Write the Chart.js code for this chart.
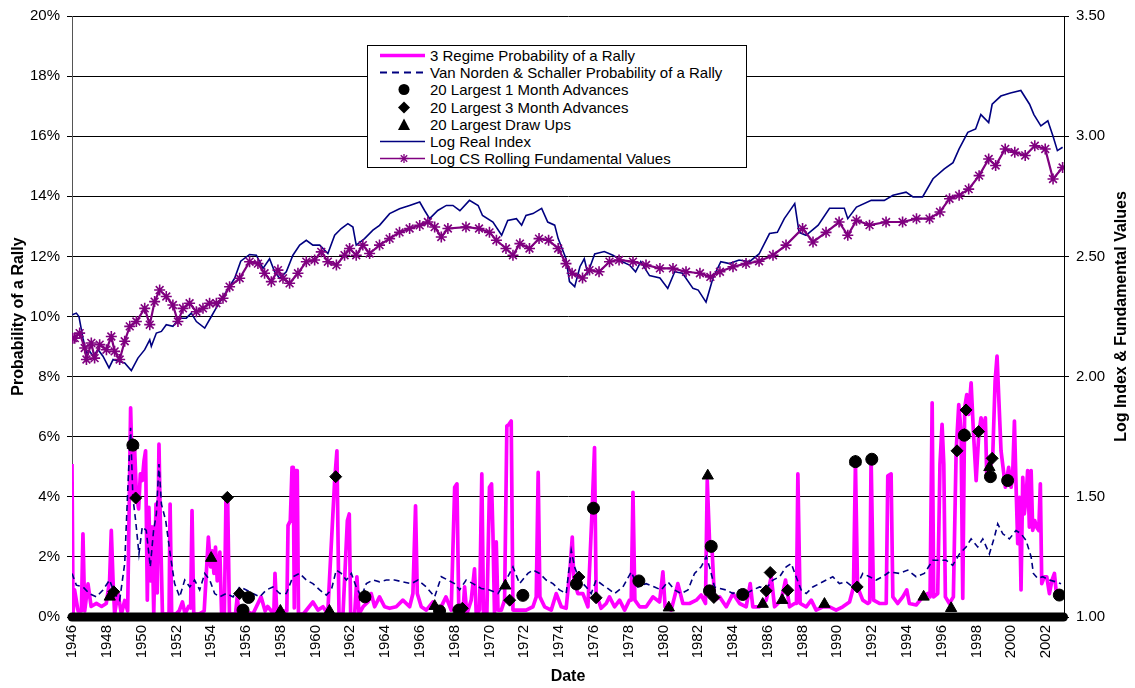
<!DOCTYPE html>
<html><head><meta charset="utf-8">
<script src="https://cdn.jsdelivr.net/npm/chart.js@4"></script>
<style>
html,body{margin:0;padding:0;background:#fff;}
#wrap{position:relative;width:1135px;height:688px;overflow:hidden;}
#legend{position:absolute;left:367px;top:45px;width:380px;height:123px;border:1px solid #000;background:#fff;font:15px "Liberation Sans",Arial,sans-serif;color:#000;box-sizing:border-box;padding-top:1px;}
.row{height:17.2px;display:flex;align-items:center;white-space:nowrap;line-height:17px;}
.row svg{width:50px;height:17px;margin-left:12px;flex:none;}
</style></head>
<body>
<div id="wrap">
<canvas id="c" width="1135" height="688"></canvas>
<div id="legend">
 <div class="row"><svg viewBox="0 0 50 17"><line x1="0" y1="8.5" x2="45" y2="8.5" stroke="#FF00FF" stroke-width="3.5"/></svg><span>3 Regime Probability of a Rally</span></div>
 <div class="row"><svg viewBox="0 0 50 17"><line x1="0" y1="8.5" x2="45" y2="8.5" stroke="#000080" stroke-width="1.8" stroke-dasharray="7,5"/></svg><span>Van Norden &amp; Schaller Probability of a Rally</span></div>
 <div class="row"><svg viewBox="0 0 50 17"><circle cx="24" cy="8.5" r="5.5" fill="#000"/></svg><span>20 Largest 1 Month Advances</span></div>
 <div class="row"><svg viewBox="0 0 50 17"><polygon points="24,2.5 30,8.5 24,14.5 18,8.5" fill="#000"/></svg><span>20 Largest 3 Month Advances</span></div>
 <div class="row"><svg viewBox="0 0 50 17"><polygon points="24,2.5 30,14 18,14" fill="#000"/></svg><span>20 Largest Draw Ups</span></div>
 <div class="row"><svg viewBox="0 0 50 17"><line x1="0" y1="8.5" x2="45" y2="8.5" stroke="#000080" stroke-width="1.5"/></svg><span>Log Real Index</span></div>
 <div class="row"><svg viewBox="0 0 50 17"><line x1="0" y1="8.5" x2="45" y2="8.5" stroke="#800080" stroke-width="1.5"/><g stroke="#800080" stroke-width="1.3"><line x1="24" y1="4" x2="24" y2="13"/><line x1="19.5" y1="8.5" x2="28.5" y2="8.5"/><line x1="20.8" y1="5.3" x2="27.2" y2="11.7"/><line x1="20.8" y1="11.7" x2="27.2" y2="5.3"/></g></svg><span>Log CS Rolling Fundamental Values</span></div>
</div>
</div>
<script>
// ---------- DATA ----------
const yearTicks = [1946,1948,1950,1952,1954,1956,1958,1960,1962,1964,1966,1968,1970,1972,1974,1976,1978,1980,1982,1984,1986,1988,1990,1992,1994,1996,1998,2000,2002];

// 3 Regime Probability of a Rally (%)
const regimeYears = [1946.0,1946.06,1946.15,1946.35,1946.54,1946.63,1946.73,1946.92,1947.1,1947.4,1947.7,1947.97,1948.16,1948.26,1948.36,1948.45,1948.64,1948.84,1949.03,1949.2,1949.37,1949.5,1949.6,1949.7,1949.83,1949.93,1950.04,1950.14,1950.23,1950.33,1950.42,1950.52,1950.6,1950.7,1950.83,1950.9,1951.0,1951.07,1951.2,1951.35,1951.58,1951.64,1951.73,1951.97,1952.16,1952.35,1952.5,1952.7,1952.82,1952.9,1953.0,1953.3,1953.6,1953.84,1953.97,1954.06,1954.16,1954.25,1954.35,1954.5,1954.6,1954.76,1954.85,1954.95,1955.05,1955.4,1955.5,1955.6,1955.95,1956.4,1956.87,1957.1,1957.25,1957.6,1957.67,1957.77,1958.05,1958.35,1958.42,1958.55,1958.65,1958.72,1958.78,1958.85,1958.95,1959.02,1959.3,1959.85,1960.14,1960.43,1960.7,1960.96,1961.1,1961.23,1961.35,1961.58,1961.83,1961.94,1962.02,1962.25,1962.38,1962.5,1962.73,1963.01,1963.2,1963.4,1963.68,1963.97,1964.26,1964.64,1965.02,1965.41,1965.6,1965.75,1965.85,1966.08,1966.37,1966.75,1967.13,1967.5,1967.8,1968.0,1968.13,1968.24,1968.47,1968.57,1968.7,1968.95,1969.14,1969.24,1969.43,1969.56,1969.66,1969.85,1970.0,1970.12,1970.2,1970.29,1970.39,1970.49,1970.68,1970.87,1971.0,1971.12,1971.25,1971.35,1971.73,1972.11,1972.5,1972.69,1972.8,1972.9,1973.17,1973.55,1973.84,1974.13,1974.41,1974.64,1974.76,1974.85,1975.08,1975.37,1975.66,1975.9,1976.04,1976.13,1976.42,1976.71,1976.9,1977.19,1977.48,1977.77,1978.05,1978.15,1978.25,1978.36,1978.63,1979.01,1979.4,1979.78,1979.97,1980.1,1980.45,1980.83,1981.12,1981.5,1981.89,1982.17,1982.42,1982.52,1982.65,1982.79,1982.94,1983.23,1983.61,1984.0,1984.38,1984.76,1984.99,1985.14,1985.53,1985.91,1986.2,1986.39,1986.77,1987.02,1987.25,1987.54,1987.65,1987.73,1987.86,1988.21,1988.5,1988.78,1989.17,1989.55,1989.93,1990.31,1990.7,1990.93,1991.04,1991.16,1991.46,1991.75,1991.86,1991.94,1992.08,1992.42,1992.81,1992.9,1993.09,1993.19,1993.47,1993.76,1993.99,1994.14,1994.53,1994.91,1995.2,1995.33,1995.45,1995.54,1995.77,1995.9,1996.02,1996.12,1996.21,1996.44,1996.67,1996.83,1996.98,1997.11,1997.21,1997.32,1997.44,1997.55,1997.69,1997.82,1997.98,1998.13,1998.26,1998.4,1998.51,1998.59,1998.74,1998.93,1999.07,1999.18,1999.28,1999.41,1999.55,1999.66,1999.85,1999.99,2000.08,2000.18,2000.27,2000.37,2000.47,2000.56,2000.66,2000.75,2000.85,2000.94,2001.04,2001.14,2001.23,2001.35,2001.46,2001.58,2001.67,2001.75,2001.9,2002.04,2002.19,2002.34,2002.48,2002.57,2002.76];
const regimeVals = [5.09,0.1,0.9,0.2,0.2,2.77,0.2,1.1,0.35,0.45,0.35,0.45,1.2,2.88,1.2,0.1,0.8,0.1,0.55,0.2,6.96,3.98,5.6,4.1,3.6,4.76,4.54,5.2,5.53,0.56,3.65,1.2,3.0,0.1,3.76,0.8,5.75,3.4,0.1,0.1,0.1,3.76,0.1,0.1,0.2,0.5,0.1,0.35,0.3,3.54,0.1,0.1,0.2,2.66,1.67,2.2,1.45,2.33,1.2,2.16,0.1,0.1,3.87,3.87,0.1,0.1,0.67,0.1,0.2,0.1,0.67,0.2,0.35,0.1,1.45,0.2,0.2,0.2,3.05,3.2,4.98,4.98,0.3,4.87,4.87,0.1,0.1,0.5,0.23,0.34,0.1,3.0,4.54,5.53,0.1,0.1,3.2,3.43,0.1,0.1,1.34,0.1,0.34,0.5,0.78,0.34,0.67,0.34,0.29,0.34,0.56,0.34,0.78,3.7,0.78,0.34,0.23,0.5,0.23,0.67,0.23,4.32,4.43,0.1,0.1,1.0,0.1,0.56,1.6,0.1,0.23,4.76,0.1,0.1,4.32,4.43,2.77,0.1,2.5,0.23,0.23,0.56,6.36,6.41,6.52,0.23,0.23,0.23,0.34,0.67,4.81,0.67,0.34,0.23,0.78,0.34,0.29,1.67,2.66,1.23,0.78,0.78,0.34,3.54,5.64,0.78,0.29,0.45,0.67,0.34,0.56,0.23,0.56,0.56,4.15,0.56,0.34,0.34,0.67,0.5,1.5,0.34,0.23,1.11,0.45,0.45,0.56,0.73,0.45,4.54,2.55,2.33,0.56,0.67,0.34,0.78,0.45,0.34,1.11,0.34,0.34,0.56,1.34,0.34,0.56,1.23,0.34,0.45,0.45,4.76,0.45,0.34,0.56,0.23,0.34,0.34,0.23,0.34,0.5,1.0,5.14,1.0,0.56,0.45,0.5,5.31,0.56,0.45,0.45,4.7,4.76,0.67,0.45,0.67,0.9,0.45,0.4,0.67,0.78,0.67,7.13,0.67,0.78,5.09,6.41,5.09,0.67,0.45,0.67,5.53,7.07,6.19,0.62,6.96,7.4,6.74,7.79,6.19,4.54,6.08,6.63,6.19,6.63,4.65,4.87,5.31,7.85,8.68,7.3,5.53,4.87,4.32,4.98,4.32,4.76,6.52,4.43,2.44,3.98,0.9,4.65,3.43,3.98,4.87,2.99,4.87,2.88,3.21,2.99,2.88,4.43,1.11,1.34,1.34,0.78,1.23,1.45,0.9,0.78];

// Van Norden & Schaller Probability of a Rally (%)
const vnsYears = [1946.0,1946.25,1946.63,1947.0,1947.4,1947.78,1948.16,1948.45,1948.74,1949.03,1949.22,1949.37,1949.5,1949.66,1949.85,1950.04,1950.27,1950.5,1950.69,1950.85,1951.0,1951.14,1951.39,1951.62,1951.9,1952.19,1952.48,1952.77,1953.05,1953.34,1953.63,1953.92,1954.2,1954.49,1954.87,1955.26,1955.64,1956.02,1956.4,1956.79,1957.17,1957.55,1957.94,1958.32,1958.7,1959.08,1959.47,1959.85,1960.24,1960.62,1960.91,1961.19,1961.48,1961.77,1962.06,1962.34,1962.63,1962.92,1963.3,1963.68,1964.07,1964.55,1965.02,1965.5,1965.89,1966.37,1966.85,1967.23,1967.61,1967.99,1968.28,1968.66,1969.05,1969.53,1970.0,1970.49,1970.96,1971.35,1971.73,1972.21,1972.5,1972.88,1973.26,1973.65,1974.03,1974.41,1974.7,1974.89,1975.18,1975.56,1975.85,1976.13,1976.52,1976.8,1977.19,1977.67,1978.15,1978.53,1979.01,1979.49,1979.87,1980.26,1980.64,1981.02,1981.41,1981.79,1982.17,1982.46,1982.65,1982.94,1983.23,1983.61,1984.0,1984.38,1984.76,1985.14,1985.53,1985.91,1986.3,1986.68,1987.06,1987.35,1987.63,1987.92,1988.21,1988.59,1988.97,1989.36,1989.74,1990.12,1990.51,1990.89,1991.18,1991.46,1991.85,1992.23,1992.61,1992.99,1993.57,1994.05,1994.53,1995.0,1995.49,1995.87,1996.25,1996.63,1997.02,1997.4,1997.69,1998.07,1998.36,1998.74,1999.03,1999.22,1999.51,1999.89,2000.27,2000.56,2000.85,2001.14,2001.27,2001.52,2001.81,2002.19,2002.57,2002.86];
const vnsVals = [1.45,1.06,1.0,0.78,0.67,0.9,1.23,0.78,0.56,1.78,4.43,6.3,3.98,3.2,2.1,3.0,2.88,1.67,2.88,3.43,5.09,3.76,3.2,2.2,1.11,0.67,1.23,1.0,1.23,0.9,1.45,1.23,0.78,0.67,0.78,0.67,1.0,0.9,0.78,0.67,0.9,1.0,0.78,0.78,1.34,1.45,1.23,1.11,0.9,0.73,0.9,1.56,1.45,1.23,1.45,1.0,0.67,1.11,1.23,1.17,1.23,1.23,1.17,1.11,1.23,1.0,0.67,1.34,1.23,1.11,0.9,1.23,1.11,0.95,0.9,0.78,1.23,1.67,1.11,1.45,1.56,1.45,1.23,1.11,0.9,0.78,2.22,1.67,1.23,1.0,0.78,1.23,1.06,0.95,0.78,1.0,1.5,1.0,1.11,1.0,0.9,1.17,0.9,0.78,0.9,1.45,1.67,2.0,1.67,1.0,0.95,0.9,0.78,0.9,0.78,0.9,1.0,0.95,1.23,1.34,1.67,1.78,1.34,0.9,0.78,1.0,1.11,1.23,1.34,1.11,1.17,1.0,1.11,1.45,1.34,1.23,1.34,1.5,1.45,1.56,1.34,1.45,1.89,1.89,1.89,1.72,2.1,2.33,2.6,2.33,2.6,2.1,2.66,3.1,2.77,2.6,2.88,2.77,2.55,2.0,1.45,1.28,1.34,1.23,1.17,1.11];

// Event markers (%)
const oneMonthYears = [1949.5,1955.83,1956.15,1962.84,1967.13,1968.24,1971.92,1975.0,1975.98,1978.59,1982.65,1982.75,1984.56,1991.04,1991.98,1997.3,1998.8,1999.79,2002.76];
const oneMonthVals  = [5.72,0.23,0.65,0.67,0.2,0.23,0.72,1.1,3.62,1.2,0.87,2.35,0.75,5.17,5.25,6.05,4.67,4.54,0.73];
const threeMonthYears = [1948.4,1949.66,1954.93,1955.64,1961.16,1968.44,1971.16,1975.14,1976.13,1982.9,1985.91,1986.14,1987.15,1991.14,1996.88,1997.4,1998.12,1998.9];
const threeMonthVals  = [0.84,3.96,3.98,0.78,4.67,0.29,0.56,1.33,0.64,0.65,0.87,1.48,0.89,1.0,5.53,6.89,6.17,5.28];
const drawUpYears = [1948.17,1949.5,1954.0,1957.98,1960.8,1962.84,1966.85,1970.91,1980.31,1982.55,1985.71,1986.83,1989.26,1991.04,1994.96,1996.54,1997.3,1998.74];
const drawUpVals  = [0.67,5.72,1.96,0.2,0.2,0.67,0.36,1.04,0.31,4.7,0.43,0.56,0.43,5.17,0.67,0.29,6.05,4.98];
// all other months of the event series sit at zero
const zeroYears = [1946.0, 2003.0];
const zeroVals  = [0, 0];

// Log Real Index
const indexYears = [1946.02,1946.25,1946.4,1946.63,1946.83,1947.02,1947.21,1947.5,1947.78,1948.13,1948.36,1948.65,1949.03,1949.41,1949.79,1950.18,1950.47,1950.56,1950.85,1951.14,1951.42,1951.8,1952.19,1952.57,1952.86,1953.15,1953.63,1954.01,1954.39,1954.87,1955.35,1955.7,1956.21,1956.6,1956.98,1957.36,1957.65,1957.94,1958.32,1958.7,1959.09,1959.47,1959.85,1960.24,1960.71,1961.1,1961.48,1961.86,1962.15,1962.34,1962.82,1963.3,1963.68,1964.26,1964.83,1965.41,1965.99,1966.27,1966.56,1967.03,1967.52,1967.9,1968.3,1968.85,1969.35,1969.6,1970.2,1970.7,1971.05,1971.55,1971.85,1972.1,1972.5,1973.0,1973.35,1973.75,1973.95,1974.4,1974.6,1974.9,1975.2,1975.45,1975.65,1976.05,1976.6,1977.1,1977.65,1978.05,1978.4,1978.7,1979.2,1979.8,1980.25,1980.65,1981.1,1981.7,1982.0,1982.45,1982.85,1983.3,1983.8,1984.35,1984.95,1985.5,1986.1,1986.55,1986.95,1987.15,1987.55,1987.8,1988.2,1988.9,1989.55,1990.4,1990.6,1991.1,1991.95,1992.7,1993.2,1993.95,1994.35,1994.9,1995.5,1996.15,1996.65,1997.0,1997.5,1997.95,1998.25,1998.7,1998.9,1999.4,1999.95,2000.55,2001.05,2001.3,2001.7,2002.1,2002.4,2002.65,2002.95];
const indexVals = [2.257,2.264,2.25,2.16,2.098,2.105,2.085,2.112,2.085,2.036,2.071,2.064,2.057,2.025,2.077,2.112,2.153,2.126,2.181,2.188,2.216,2.209,2.243,2.243,2.264,2.229,2.202,2.25,2.298,2.353,2.409,2.48,2.508,2.505,2.45,2.49,2.436,2.409,2.436,2.505,2.547,2.567,2.547,2.547,2.512,2.588,2.616,2.636,2.622,2.547,2.574,2.609,2.629,2.678,2.698,2.712,2.726,2.691,2.657,2.691,2.712,2.712,2.69,2.733,2.712,2.67,2.643,2.588,2.65,2.657,2.63,2.67,2.678,2.70,2.643,2.63,2.574,2.49,2.395,2.374,2.457,2.49,2.43,2.51,2.52,2.505,2.478,2.464,2.436,2.478,2.42,2.41,2.367,2.436,2.43,2.367,2.36,2.31,2.41,2.478,2.47,2.485,2.478,2.51,2.595,2.60,2.657,2.678,2.72,2.60,2.588,2.63,2.70,2.70,2.657,2.705,2.733,2.733,2.754,2.767,2.747,2.747,2.823,2.864,2.89,2.947,3.016,3.03,3.09,3.057,3.133,3.167,3.18,3.19,3.133,3.09,3.043,3.064,3.0,2.94,2.954];

// Log CS Rolling Fundamental Values
const fundYears = [1946.05,1946.16,1946.44,1946.73,1946.83,1947.11,1947.3,1947.59,1947.98,1948.26,1948.45,1948.74,1949.03,1949.32,1949.7,1950.18,1950.47,1950.75,1951.04,1951.42,1951.8,1952.09,1952.38,1952.76,1953.15,1953.53,1953.91,1954.3,1954.68,1955.06,1955.64,1956.21,1956.69,1957.07,1957.46,1957.84,1958.13,1958.51,1958.99,1959.47,1959.95,1960.33,1960.71,1961.2,1961.67,1961.96,1962.34,1962.72,1963.11,1963.68,1964.26,1964.83,1965.41,1965.99,1966.46,1966.85,1967.23,1967.61,1968.65,1969.4,1970.0,1970.4,1970.95,1971.35,1971.75,1972.3,1972.85,1973.4,1973.95,1974.4,1974.75,1975.35,1975.75,1976.3,1976.9,1977.45,1978.25,1979.0,1979.8,1980.55,1981.3,1982.1,1982.7,1983.25,1984.0,1984.75,1985.5,1986.3,1987.05,1988.0,1988.6,1989.35,1990.1,1990.6,1991.1,1991.85,1992.8,1993.75,1994.55,1995.3,1995.9,1996.45,1997.0,1997.55,1998.15,1998.7,1999.1,1999.65,2000.2,2000.8,2001.35,2001.95,2002.4,2002.95];
const fundVals = [2.16,2.16,2.181,2.119,2.071,2.14,2.077,2.133,2.112,2.167,2.105,2.071,2.147,2.209,2.229,2.284,2.216,2.312,2.36,2.333,2.298,2.229,2.284,2.305,2.27,2.284,2.305,2.305,2.326,2.374,2.409,2.478,2.47,2.43,2.395,2.443,2.409,2.388,2.43,2.478,2.485,2.519,2.478,2.464,2.505,2.533,2.505,2.547,2.512,2.547,2.574,2.60,2.616,2.629,2.643,2.622,2.581,2.616,2.622,2.616,2.60,2.567,2.533,2.505,2.553,2.533,2.574,2.567,2.533,2.47,2.43,2.41,2.443,2.436,2.478,2.485,2.478,2.464,2.45,2.45,2.436,2.43,2.415,2.436,2.457,2.47,2.48,2.505,2.547,2.616,2.56,2.60,2.643,2.588,2.65,2.63,2.643,2.643,2.657,2.657,2.685,2.74,2.754,2.78,2.836,2.905,2.878,2.947,2.933,2.92,2.96,2.947,2.822,2.87];

// ---------- CHART ----------
const FONT = '"Liberation Sans", Arial, sans-serif';
Chart.defaults.font.family = FONT;
Chart.defaults.color = '#000';
function pts(xs, ys){ return xs.map((x, i) => ({x: x, y: ys[i]})); }

const rightTitle = {
  id: 'rightTitle',
  afterDraw(chart){
    const c = chart.ctx;
    const a = chart.chartArea;
    c.save();
    c.translate(1122, (a.top + a.bottom) / 2);
    c.rotate(-Math.PI / 2);
    c.font = 'bold 16px ' + FONT;
    c.fillStyle = '#000';
    c.textAlign = 'center';
    c.textBaseline = 'middle';
    c.fillText('Log Index & Fundamental Values', 0, 0);
    c.restore();
  }
};

new Chart(document.getElementById('c'), {
  type: 'line',
  data: { datasets: [
    { label: 'Log CS Rolling Fundamental Values', data: pts(fundYears, fundVals), yAxisID: 'y2',
      borderColor: '#800080', borderWidth: 2.2, pointStyle: 'star', pointRadius: 5.5,
      pointBorderColor: '#800080', pointBorderWidth: 1.6, tension: 0, order: 0 },
    { label: 'Log Real Index', data: pts(indexYears, indexVals), yAxisID: 'y2',
      borderColor: '#000080', borderWidth: 1.6, pointRadius: 0, tension: 0, order: 1 },
    { label: '20 Largest Draw Ups', data: pts(drawUpYears, drawUpVals), yAxisID: 'y', showLine: false,
      pointStyle: 'triangle', pointRadius: 6.5, pointBackgroundColor: '#000', pointBorderColor: '#000', order: 2 },
    { label: '20 Largest 3 Month Advances', data: pts(threeMonthYears, threeMonthVals), yAxisID: 'y', showLine: false,
      pointStyle: 'rectRot', pointRadius: 6, pointBackgroundColor: '#000', pointBorderColor: '#000', order: 3 },
    { label: '20 Largest 1 Month Advances', data: pts(oneMonthYears, oneMonthVals), yAxisID: 'y', showLine: false,
      pointStyle: 'circle', pointRadius: 6, pointBackgroundColor: '#000', pointBorderColor: '#000', order: 4 },
    { label: 'zero months', data: pts(zeroYears, zeroVals), yAxisID: 'y',
      borderColor: '#000', borderWidth: 9, borderCapStyle: 'round', pointRadius: 0, clip: false, order: 5 },
    { label: 'Van Norden & Schaller Probability of a Rally', data: pts(vnsYears, vnsVals), yAxisID: 'y',
      borderColor: '#000080', borderWidth: 1.6, borderDash: [6, 4], pointRadius: 0, tension: 0, order: 6 },
    { label: '3 Regime Probability of a Rally', data: pts(regimeYears, regimeVals), yAxisID: 'y',
      borderColor: '#FF00FF', borderWidth: 3.7, borderJoinStyle: 'round', pointRadius: 0, tension: 0, order: 7 }
  ]},
  options: {
    responsive: false, animation: false, events: [],
    layout: { padding: { top: 13, left: 0, right: 0, bottom: 0 } },
    plugins: { legend: { display: false }, tooltip: { enabled: false } },
    scales: {
      x: {
        type: 'linear', min: 1946, max: 2003.03,
        afterBuildTicks: s => { s.ticks = yearTicks.map(v => ({ value: v })); },
        afterFit: s => { s.height = 71; },
        grid: { display: false, drawTicks: false },
        border: { display: false },
        ticks: { autoSkip: false, minRotation: 90, maxRotation: 90, padding: 8,
                 font: { size: 15 }, callback: v => String(v) },
        title: { display: true, text: 'Date', font: { size: 16, weight: 'bold' }, padding: { top: 0, bottom: 2 } }
      },
      y: {
        position: 'left', min: 0, max: 20,
        afterFit: s => { s.width = 72; },
        ticks: { stepSize: 2, padding: 7, font: { size: 15 }, callback: v => v + '%' },
        grid: { color: '#000', lineWidth: 1, tickLength: 5, drawTicks: true },
        border: { color: '#555', width: 1 },
        title: { display: true, text: 'Probability of a Rally', font: { size: 16, weight: 'bold' }, padding: { top: 9, bottom: 0 } }
      },
      y2: {
        position: 'right', min: 1, max: 3.5,
        afterFit: s => { s.width = 71; },
        ticks: { stepSize: 0.5, padding: 7, font: { size: 15 }, callback: v => Number(v).toFixed(2) },
        grid: { drawOnChartArea: false, color: '#000', tickLength: 5 },
        border: { color: '#000', width: 1 }
      }
    }
  },
  plugins: [rightTitle]
});
</script>
</body></html>
